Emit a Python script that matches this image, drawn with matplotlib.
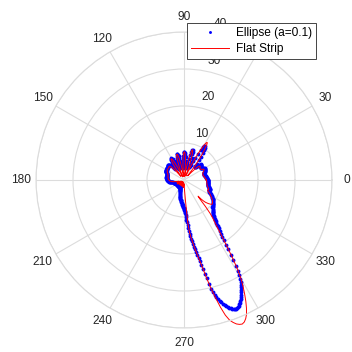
import numpy as np
import matplotlib
matplotlib.use('Agg')
import matplotlib.pyplot as plt
from matplotlib.transforms import offset_copy

plt.rcParams['font.family'] = ['Liberation Sans', 'DejaVu Sans']

# scattered field, ellipse a=0.1 : 1 deg steps, 0.5 deg across the main lobe
ell_r_side = [
    6.4, 6.4, 6.3, 6.3, 6.2, 6.2, 6.1, 6.0, 6.0, 5.9,
    5.9, 5.8, 5.8, 5.8, 5.7, 5.7, 5.7, 5.7, 5.7, 5.8,
    5.8, 5.9, 6.0, 6.1, 6.2, 6.3, 6.4, 6.5, 6.5, 6.5,
    6.3, 6.1, 5.9, 5.8, 5.7, 5.7, 5.7, 5.8, 5.9, 6.0,
    6.1, 6.2, 6.2, 6.2, 6.0, 5.7, 5.4, 5.1, 4.8, 4.6,
    4.6, 4.9, 5.6, 6.6, 7.7, 8.8, 9.7, 10.4, 10.8, 10.7,
    10.2, 9.3, 8.1, 6.8, 5.6, 4.6, 4.0, 3.7, 3.8, 4.4,
    5.3, 6.3, 7.3, 8.0, 8.4, 8.3, 7.8, 6.9, 5.9, 4.9,
    4.1, 3.6, 3.4, 3.6, 4.3, 5.2, 6.1, 6.8, 7.3, 7.5,
    7.5, 7.2, 6.6, 5.8, 4.9, 4.1, 3.6, 3.3, 3.3, 3.7,
    4.4, 5.2, 6.0, 6.6, 7.0, 7.2, 7.2, 6.9, 6.3, 5.5,
    4.7, 4.0, 3.5, 3.3, 3.3, 3.7, 4.4, 5.2, 5.9, 6.4,
    6.7, 6.8, 6.8, 6.5, 6.0, 5.4, 4.8, 4.3, 4.0, 3.9,
    4.1, 4.5, 5.0, 5.4, 5.7, 5.8, 5.9, 5.9, 5.8, 5.7,
    5.6, 5.6, 5.6, 5.6, 5.6, 5.6, 5.6, 5.6, 5.5, 5.5,
    5.5, 5.5, 5.4, 5.4, 5.3, 5.3, 5.2, 5.2, 5.1, 5.0,
    4.9, 4.9, 4.8, 4.8, 4.8, 4.8, 4.8, 4.8, 4.8, 4.8,
    4.8, 4.8, 4.8, 4.7, 4.7, 4.7, 4.7, 4.6, 4.6, 4.5,
    4.5, 4.4, 4.4, 4.3, 4.2, 4.1, 4.0, 3.9, 3.8, 3.6,
    3.5, 3.3, 3.2, 3.0, 2.9, 2.8, 2.7, 2.6, 2.5, 2.4,
    2.3, 2.2, 2.2, 2.2, 2.2, 2.2, 2.3, 2.4, 2.4, 2.4,
    2.4, 2.3, 2.2, 2.1, 2.0, 1.9, 1.9, 1.8, 1.8, 1.8,
    1.8, 1.9, 2.0, 2.1, 2.2, 2.2, 2.3, 2.3, 2.3, 2.3,
    2.3, 2.2, 2.1, 2.0, 2.0, 2.0, 2.0, 2.1, 2.1, 2.2,
    2.2, 2.3, 2.4, 2.5, 2.6, 2.7, 2.8, 2.9, 3.0, 3.1,
    3.3, 3.5, 3.7, 4.0, 4.2, 4.4, 4.6, 4.8, 5.0, 5.2,
    5.4, 5.6, 5.8, 6.0, 6.2, 6.4, 6.7, 6.9,
]
ell_r_main = [
    7.2, 7.35, 7.5, 7.65, 7.8, 8.05, 8.3, 8.6, 9.0, 9.5,
    10.0, 10.7, 11.5, 12.2, 13.0, 13.8, 14.6, 15.3, 16.0, 16.7,
    17.4, 18.2, 19.0, 19.8, 20.6, 21.5, 22.4, 23.5, 24.6, 25.9,
    27.3, 28.9, 30.3, 31.3, 32.1, 32.8, 33.5, 34.1, 34.6, 35.1,
    35.5, 35.9, 36.3, 36.6, 36.9, 37.2, 37.4, 37.5, 37.5, 37.4,
    37.2, 37.0, 36.8, 36.5, 36.1, 35.6, 35.1, 34.6, 34.0, 33.4,
    32.8, 32.2, 31.5, 30.7, 29.8, 28.6, 27.2, 25.5, 23.8, 22.2,
    20.8, 19.6, 18.5, 17.6, 16.8, 16.1, 15.5, 15.0, 14.5, 14.1,
    13.7, 13.3, 13.0, 12.7, 12.4, 12.1, 11.9, 11.7,
]
ell_r_tail = [
    11.6, 11.3, 11.1, 10.9, 10.7, 10.6, 10.5, 10.4, 10.3, 10.2,
    10.1, 9.9, 9.8, 9.6, 9.4, 9.2, 9.0, 8.8, 8.6, 8.4,
    8.2, 8.0, 7.8, 7.5, 7.3, 7.2, 7.3, 7.4, 7.4, 7.3,
    7.2, 7.1, 7.0, 6.9, 6.8, 6.7, 6.7, 6.6, 6.6, 6.6,
    6.5, 6.5, 6.5, 6.5, 6.5, 6.5, 6.4, 6.4,
]
ell_deg = np.concatenate([np.arange(0, 268, 1.0),
                          np.arange(268, 312, 0.5),
                          np.arange(312, 360, 1.0)])
ell_r = ell_r_side + ell_r_main + ell_r_tail
assert len(ell_deg) == len(ell_r)

# flat strip, 1 deg steps from 0 to 359
strip_r = [
    6.0, 6.0, 5.9, 5.9, 5.8, 5.8, 5.7, 5.6, 5.6, 5.5,
    5.5, 5.4, 5.4, 5.4, 5.3, 5.3, 5.3, 5.3, 5.3, 5.4,
    5.4, 5.5, 5.6, 5.7, 5.8, 5.9, 6.0, 6.1, 6.1, 6.0,
    5.8, 5.6, 5.4, 5.3, 5.3, 5.3, 5.3, 5.4, 5.5, 5.6,
    5.7, 5.7, 5.6, 5.3, 4.8, 4.1, 3.3, 2.5, 1.8, 1.5,
    1.9, 3.0, 4.4, 5.9, 7.4, 8.8, 10.0, 11.2, 11.9, 11.8,
    11.0, 9.6, 7.9, 6.0, 4.2, 2.7, 1.6, 1.2, 1.8, 3.0,
    4.5, 5.9, 7.1, 8.0, 8.5, 8.4, 7.7, 6.5, 5.0, 3.5,
    2.2, 1.3, 1.0, 1.6, 2.9, 4.3, 5.6, 6.6, 7.3, 7.6,
    7.6, 7.2, 6.4, 5.2, 3.9, 2.6, 1.6, 1.0, 1.0, 1.8,
    3.0, 4.3, 5.4, 6.3, 6.9, 7.2, 7.2, 6.8, 6.0, 4.9,
    3.7, 2.5, 1.5, 1.0, 1.0, 1.7, 2.9, 4.1, 5.2, 6.0,
    6.5, 6.7, 6.6, 6.2, 5.5, 4.6, 3.6, 2.6, 1.8, 1.3,
    1.3, 2.0, 3.0, 4.0, 4.7, 5.1, 5.3, 5.4, 5.4, 5.4,
    5.4, 5.3, 5.3, 5.3, 5.3, 5.3, 5.3, 5.3, 5.3, 5.3,
    5.2, 5.2, 5.1, 5.1, 5.0, 5.0, 4.9, 4.8, 4.8, 4.7,
    4.6, 4.6, 4.5, 4.5, 4.5, 4.5, 4.5, 4.4, 4.4, 4.4,
    4.4, 4.4, 4.4, 4.3, 4.3, 4.3, 4.3, 4.2, 4.2, 4.1,
    4.1, 4.0, 4.0, 3.9, 3.8, 3.7, 3.5, 3.4, 3.2, 3.0,
    2.7, 2.3, 2.0, 1.6, 1.4, 1.5, 1.8, 2.0, 2.0, 1.8,
    1.6, 1.3, 1.0, 0.8, 0.9, 1.2, 1.5, 1.8, 2.0, 2.1,
    2.1, 2.0, 1.8, 1.5, 1.2, 0.9, 0.7, 0.7, 0.9, 1.2,
    1.5, 1.7, 1.8, 1.8, 1.7, 1.5, 1.2, 0.9, 0.7, 0.8,
    1.1, 1.4, 1.6, 1.7, 1.7, 1.6, 1.3, 1.0, 0.7, 0.6,
    0.8, 1.1, 1.4, 1.6, 1.7, 1.6, 1.4, 1.1, 0.8, 0.6,
    0.7, 1.0, 1.3, 1.6, 1.8, 1.9, 1.8, 1.6, 1.3, 1.0,
    0.8, 0.9, 1.2, 1.5, 1.8, 2.0, 2.0, 1.8, 1.5, 1.2,
    1.0, 1.2, 1.8, 3.0, 5.5, 11.5, 14.2, 15.8, 17.2, 18.8,
    20.4, 22.2, 24.4, 27.3, 30.3, 33.0, 35.8, 38.2, 39.8, 40.7,
    41.4, 41.8, 42.0, 41.7, 41.0, 40.0, 38.5, 36.8, 34.9, 32.9,
    30.8, 28.0, 24.5, 21.0, 18.0, 15.8, 14.2, 12.9, 11.5, 9.2,
    6.5, 5.8, 7.0, 7.8, 8.4, 8.8, 9.2, 9.5, 9.8, 10.0,
    10.0, 9.9, 9.8, 9.6, 9.5, 9.3, 9.1, 8.9, 8.7, 8.5,
    8.3, 8.1, 7.9, 7.7, 7.4, 7.2, 7.0, 6.9, 7.0, 7.1,
    7.1, 7.0, 6.9, 6.8, 6.7, 6.6, 6.5, 6.4, 6.4, 6.3,
    6.3, 6.3, 6.2, 6.2, 6.2, 6.2, 6.2, 6.1, 6.1, 6.0,
]
strip_deg = np.arange(0, 361, 1.0)
strip_r = strip_r + strip_r[:1]
assert len(strip_deg) == len(strip_r)

theta_ticks = list(range(0, 360, 30))
r_ticks = [10, 20, 30, 40]

fig = plt.figure(figsize=(3.52, 3.52), dpi=100)
ax = fig.add_axes([0.1023, 0.0682, 0.8409, 0.8409], projection='polar')

ax.plot(np.deg2rad(ell_deg), ell_r, ls='none', marker='o', ms=2.8, mew=0,
        color='#0000ff', label='Ellipse (a=0.1)')
ax.plot(np.deg2rad(strip_deg), strip_r, color='#ff0000', lw=0.7,
        clip_on=False, label='Flat Strip')

ax.set_rlim(0, 40)
ax.set_yticks(r_ticks)
ax.set_yticklabels([])
ax.set_thetagrids(theta_ticks, labels=[str(t) for t in theta_ticks])
ax.tick_params(axis='x', length=0, pad=4.0, labelsize=8.6, labelcolor='#262626')
ax.grid(True, color='#dcdcdc', lw=0.8)
ax.spines['polar'].set_color('#dcdcdc')
ax.spines['polar'].set_linewidth(0.8)

# radius labels along the 80 deg spoke
lab_tr = offset_copy(ax.transData, fig=fig, x=11, y=10, units='dots')
for r in r_ticks:
    ax.text(np.deg2rad(80), r, str(r), transform=lab_tr, ha='center',
            va='center', fontsize=8.6, color='#262626', zorder=3)

leg = ax.legend(loc='upper left', bbox_to_anchor=(187 / 352, 1 - 22.7 / 352),
                bbox_transform=fig.transFigure, borderaxespad=0,
                fontsize=8.6, fancybox=False, framealpha=1, markerscale=0.75,
                edgecolor='#262626', handlelength=3.2, handletextpad=0.55,
                borderpad=0.35, labelspacing=0.35)
leg.get_frame().set_linewidth(0.6)
leg.set_zorder(5)

fig.savefig('out.png', dpi=100)
